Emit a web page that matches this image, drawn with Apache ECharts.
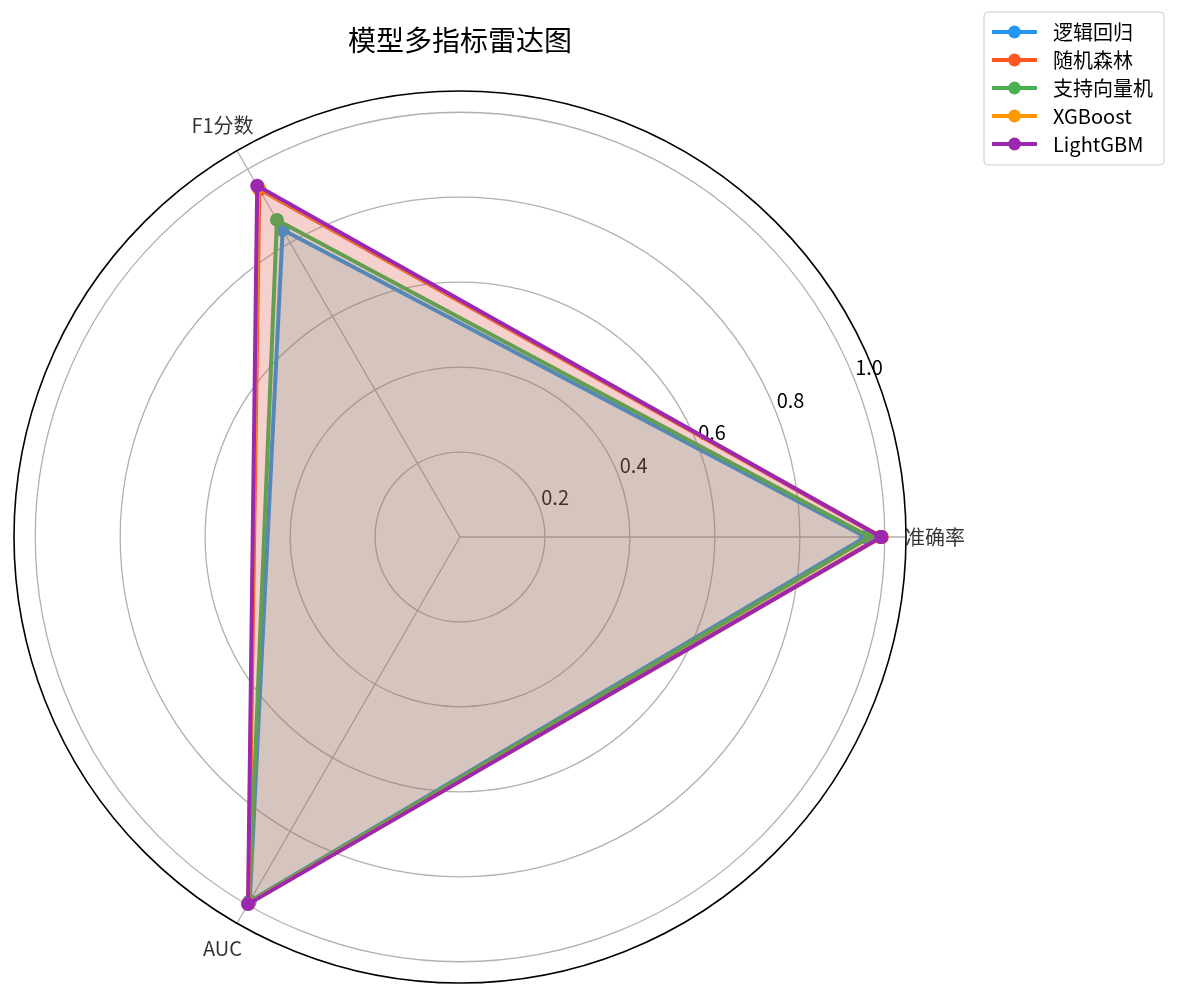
<!DOCTYPE html>
<html>
<head>
<meta charset="utf-8">
<script src="https://cdn.jsdelivr.net/npm/echarts@6/dist/echarts.min.js"></script>
<style>
html,body{margin:0;padding:0;background:#fff;}
#main{width:1178px;height:995px;}
</style>
</head>
<body>
<div id="main"></div>
<script>
// ---- data ----
const categories = ['准确率', 'F1分数', 'AUC'];
const models = ['逻辑回归', '随机森林', '支持向量机', 'XGBoost', 'LightGBM'];
const lrValues   = [0.955, 0.835, 0.990];
const rfValues   = [0.990, 0.945, 0.995];
const svmValues  = [0.965, 0.862, 0.992];
const xgbValues  = [0.993, 0.950, 0.997];
const lgbmValues = [0.992, 0.955, 0.998];
const radialTicks = [0.2, 0.4, 0.6, 0.8, 1.0];

// ---- style ----
const colors = ['#2196F3', '#FF5722', '#4CAF50', '#FF9800', '#9C27B0'];
const seriesValues = [lrValues, rfValues, svmValues, xgbValues, lgbmValues];
const FONT = "'Noto Sans CJK SC', 'Noto Sans', sans-serif";
const CX = 460, CY = 537, R = 446, RMAX = 1.05;
const LABEL_GAP = 18;       // px offset of radial tick labels
const NAME_R = 475 / (R / RMAX); // radius (data units) of category names
const step = 360 / categories.length;
const angles = categories.map((c, i) => i * step);

const gridColors = [0].concat(radialTicks).map(() => '#b0b0b0').concat(['rgba(0,0,0,0)']);

const chart = echarts.init(document.getElementById('main'), null, {renderer: 'canvas'});

const lineSeries = models.map((m, k) => {
  const vals = seriesValues[k];
  const data = vals.map((v, i) => [v, angles[i]]).concat([[vals[0], 360]]);
  return {
    name: m,
    type: 'line',
    coordinateSystem: 'polar',
    polarIndex: 0,
    data: data,
    symbol: 'circle',
    symbolSize: 14,
    showSymbol: true,
    lineStyle: {color: colors[k], width: 4},
    itemStyle: {color: colors[k]},
    areaStyle: {color: colors[k], opacity: 0.1},
    emphasis: {disabled: true},
    animation: false,
    z: 2 + k * 0.01
  };
});

const nameSeries = {
  type: 'scatter',
  coordinateSystem: 'polar',
  polarIndex: 0,
  clip: false,
  silent: true,
  symbolSize: 1,
  itemStyle: {color: 'rgba(0,0,0,0)'},
  data: categories.map((c, i) => ({name: c, value: [NAME_R, angles[i]]})),
  label: {
    show: true,
    position: 'inside',
    formatter: '{b}',
    fontSize: 20,
    color: '#000',
    fontFamily: FONT
  },
  animation: false,
  z: 1
};

const option = {
  backgroundColor: '#fff',
  animation: false,
  textStyle: {fontFamily: FONT},
  title: {
    text: '模型多指标雷达图',
    left: CX,
    top: 26,
    padding: 0,
    textAlign: 'center',
    textStyle: {fontSize: 28, fontWeight: 'normal', color: '#000', fontFamily: FONT}
  },
  legend: {
    data: models,
    orient: 'vertical',
    left: 984,
    top: 12,
    padding: [10, 11, 11, 6],
    itemGap: 8,
    itemWidth: 45,
    itemHeight: 16,
    backgroundColor: '#fff',
    borderColor: '#cccccc',
    borderWidth: 1,
    borderRadius: 4,
    selectedMode: false,
    lineStyle: {width: 4},
    textStyle: {fontSize: 20, color: '#000', fontFamily: FONT, padding: [0, 0, 0, 11]}
  },
  polar: [
    {center: [CX, CY], radius: R},
    {center: [CX, CY], radius: [LABEL_GAP, LABEL_GAP + R]}
  ],
  angleAxis: [
    {
      polarIndex: 0,
      type: 'value',
      min: 0,
      max: 360,
      interval: step,
      startAngle: 0,
      clockwise: false,
      axisLine: {show: true, lineStyle: {color: '#000', width: 1.6}},
      axisTick: {show: false},
      axisLabel: {show: false},
      splitLine: {show: true, lineStyle: {color: '#b0b0b0', width: 1.3}}
    },
    {
      polarIndex: 1,
      type: 'value',
      min: 0,
      max: 360,
      startAngle: 22.5,
      clockwise: false,
      axisLine: {show: false},
      axisTick: {show: false},
      axisLabel: {show: false},
      splitLine: {show: false}
    }
  ],
  radiusAxis: [
    {
      polarIndex: 0,
      type: 'value',
      min: 0,
      max: RMAX,
      interval: 0.2,
      axisLine: {show: false},
      axisTick: {show: false},
      axisLabel: {show: false},
      splitLine: {show: true, lineStyle: {color: gridColors, width: 1.3}}
    },
    {
      polarIndex: 1,
      type: 'value',
      min: 0,
      max: RMAX,
      interval: 0.2,
      axisLine: {show: false},
      axisTick: {show: false},
      splitLine: {show: false},
      axisLabel: {
        show: true,
        margin: 0,
        align: 'center',
        verticalAlign: 'middle',
        fontSize: 20,
        color: '#000',
        fontFamily: FONT,
        formatter: function (v) {
          return radialTicks.some(t => Math.abs(t - v) < 1e-6) ? v.toFixed(1) : '';
        }
      }
    }
  ],
  series: lineSeries.concat([nameSeries])
};

chart.setOption(option);
</script>
</body>
</html>
